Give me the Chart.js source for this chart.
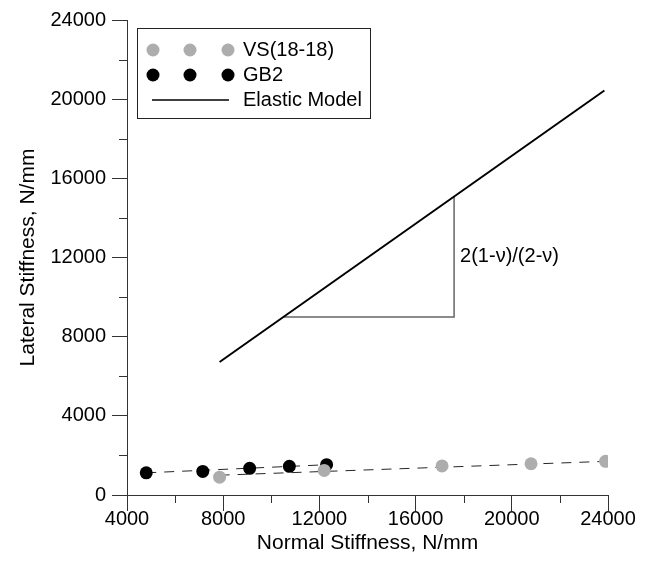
<!DOCTYPE html>
<html>
<head>
<meta charset="utf-8">
<script src="https://cdn.jsdelivr.net/npm/chart.js@4/dist/chart.umd.min.js"></script>
<style>
  html, body { margin: 0; padding: 0; background: #fff; }
  #wrap { width: 648px; height: 564px; }
</style>
</head>
<body>
<div id="wrap"><canvas id="c" width="648" height="564"></canvas></div>
<script>
// Measured stiffness pairs (N/mm)
const vsNormal   = [7850, 12200, 17100, 20800, 23900];
const vsLateral  = [900, 1240, 1470, 1580, 1700];
const gb2Normal  = [4800, 7150, 9100, 10750, 12300];
const gb2Lateral = [1120, 1190, 1350, 1450, 1530];

// Trend lines through each test series (end points)
const vsTrendNormal   = [7850, 23900];
const vsTrendLateral  = [1000, 1700];
const gb2TrendNormal  = [4800, 12300];
const gb2TrendLateral = [1120, 1530];

// Elastic model line and its slope triangle
const elasticNormal  = [7850, 23850];
const elasticLateral = [6720, 20440];
const slopeNormal    = [10500, 17600, 17600];
const slopeLateral   = [9000, 9000, 15080];
const slopeLabel     = '2(1-\u03bd)/(2-\u03bd)';

// Axis ranges and tick steps
const xRange = [4000, 24000];
const yRange = [0, 24000];
const majorStep = 4000;
const minorStep = 2000;

const seriesNames = ['VS(18-18)', 'GB2', 'Elastic Model'];
const FONT = "'Liberation Sans', Arial, sans-serif";
const GRAY = '#adadad';

const toPoints = (xs, ys) => xs.map((x, i) => ({ x, y: ys[i] }));
const plainNumber = v => String(v);

// Minor tick marks between the labelled ones
const minorTicks = {
  id: 'minorTicks',
  afterDraw(chart) {
    const { ctx, chartArea, scales: { x, y } } = chart;
    ctx.save();
    ctx.strokeStyle = '#333';
    ctx.lineWidth = 1;
    ctx.beginPath();
    for (let v = xRange[0] + minorStep; v < xRange[1]; v += majorStep) {
      const px = Math.round(x.getPixelForValue(v)) + 0.5;
      ctx.moveTo(px, chartArea.bottom);
      ctx.lineTo(px, chartArea.bottom + 8);
    }
    for (let v = yRange[0] + minorStep; v < yRange[1]; v += majorStep) {
      const py = Math.round(y.getPixelForValue(v)) + 0.5;
      ctx.moveTo(chartArea.left, py);
      ctx.lineTo(chartArea.left - 8, py);
    }
    ctx.stroke();
    ctx.restore();
  }
};

// Label beside the vertical leg of the slope triangle
const slopeText = {
  id: 'slopeText',
  afterDatasetsDraw(chart) {
    const { ctx, scales: { x, y } } = chart;
    const px = x.getPixelForValue(slopeNormal[2]) + 6;
    const py = (y.getPixelForValue(slopeLateral[1]) + y.getPixelForValue(slopeLateral[2])) / 2;
    ctx.save();
    ctx.font = '20px ' + FONT;
    ctx.fillStyle = '#000';
    ctx.textAlign = 'left';
    ctx.textBaseline = 'middle';
    ctx.fillText(slopeLabel, px, py);
    ctx.restore();
  }
};

// Framed legend with three sample markers per series
const boxLegend = {
  id: 'boxLegend',
  afterDraw(chart) {
    const ctx = chart.ctx;
    ctx.save();
    ctx.strokeStyle = '#222';
    ctx.lineWidth = 1;
    ctx.strokeRect(137.5, 28.5, 233, 90);
    const mx = [153, 190, 228];
    const rows = [50, 75, 100];
    const fills = [GRAY, '#000'];
    for (let r = 0; r < 2; r++) {
      ctx.fillStyle = fills[r];
      mx.forEach(cx => {
        ctx.beginPath();
        ctx.arc(cx, rows[r], 6.5, 0, Math.PI * 2);
        ctx.fill();
      });
    }
    ctx.strokeStyle = '#000';
    ctx.lineWidth = 1.5;
    ctx.beginPath();
    ctx.moveTo(152, rows[2]);
    ctx.lineTo(229, rows[2]);
    ctx.stroke();
    ctx.font = '20px ' + FONT;
    ctx.fillStyle = '#000';
    ctx.textAlign = 'left';
    ctx.textBaseline = 'middle';
    seriesNames.forEach((t, i) => ctx.fillText(t, 243, rows[i]));
    ctx.restore();
  }
};

const tickFont = { family: FONT, size: 20 };
const titleFont = { family: FONT, size: 21 };

new Chart(document.getElementById('c'), {
  type: 'scatter',
  data: {
    datasets: [
      {
        label: seriesNames[0],
        data: toPoints(vsNormal, vsLateral),
        backgroundColor: GRAY, borderColor: GRAY,
        pointRadius: 6.5, pointBorderWidth: 0, showLine: false
      },
      {
        label: seriesNames[1],
        data: toPoints(gb2Normal, gb2Lateral),
        backgroundColor: '#000', borderColor: '#000',
        pointRadius: 6.5, pointBorderWidth: 0, showLine: false
      },
      {
        label: seriesNames[2],
        data: toPoints(elasticNormal, elasticLateral),
        showLine: true, borderColor: '#000', borderWidth: 2, pointRadius: 0
      },
      {
        label: 'VS trend',
        data: toPoints(vsTrendNormal, vsTrendLateral),
        showLine: true, borderColor: '#262626', borderWidth: 1, borderDash: [10, 8], pointRadius: 0
      },
      {
        label: 'GB2 trend',
        data: toPoints(gb2TrendNormal, gb2TrendLateral),
        showLine: true, borderColor: '#262626', borderWidth: 1, borderDash: [10, 8], pointRadius: 0
      },
      {
        label: 'Slope',
        data: toPoints(slopeNormal, slopeLateral),
        showLine: true, borderColor: '#666', borderWidth: 1.5, pointRadius: 0
      }
    ]
  },
  options: {
    responsive: false,
    animation: false,
    events: [],
    layout: { padding: { top: 20, right: 40, left: 0, bottom: 0 } },
    plugins: { legend: { display: false }, tooltip: { enabled: false } },
    scales: {
      x: {
        type: 'linear', min: xRange[0], max: xRange[1],
        afterFit: s => { s.height = 69; },
        ticks: { stepSize: majorStep, color: '#000', font: tickFont, padding: -4, maxRotation: 0, callback: plainNumber },
        grid: { display: true, drawOnChartArea: false, drawTicks: true, tickLength: 16, color: '#333' },
        border: { display: true, color: '#333', width: 1 },
        title: { display: true, text: 'Normal Stiffness, N/mm', color: '#000', font: titleFont, padding: { top: 0, bottom: 8 } }
      },
      y: {
        type: 'linear', min: yRange[0], max: yRange[1],
        afterFit: s => { s.width = 127; },
        ticks: { stepSize: majorStep, color: '#000', font: tickFont, padding: 6, callback: plainNumber },
        grid: { display: true, drawOnChartArea: false, drawTicks: true, tickLength: 15, color: '#333' },
        border: { display: true, color: '#333', width: 1 },
        title: { display: true, text: 'Lateral Stiffness, N/mm', color: '#000', font: titleFont, padding: { top: 16, bottom: 0 } }
      }
    }
  },
  plugins: [minorTicks, slopeText, boxLegend]
});
</script>
</body>
</html>
